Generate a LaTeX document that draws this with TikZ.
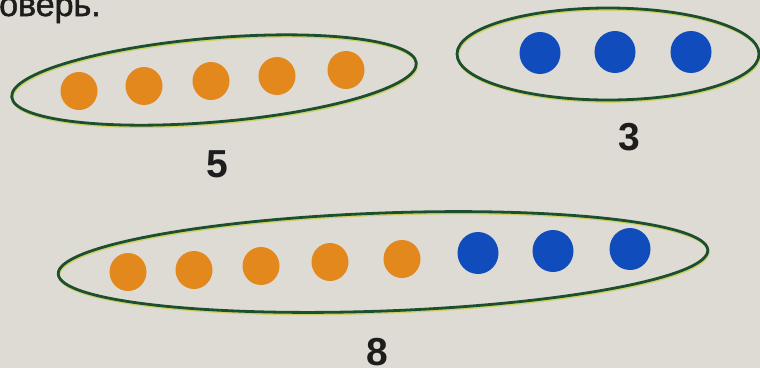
\documentclass[tikz,border=0pt]{standalone}
\usepackage{fontspec}
\setmainfont{Liberation Sans}
\newfontfamily\headfont[UprightFeatures={FakeBold=1.5}]{Liberation Sans}
\usetikzlibrary{shapes.geometric}
\definecolor{paper}{RGB}{222,219,213}
\definecolor{dotorange}{RGB}{226,136,28}
\definecolor{dotblue}{RGB}{16,76,188}
\definecolor{rim}{RGB}{28,78,48}
\definecolor{halo}{RGB}{205,208,100}
\definecolor{ink}{RGB}{30,28,28}
\begin{document}
\begin{tikzpicture}[x=1pt,y=-1pt,
  group/.style={ellipse, draw=rim, line width=2.8pt, inner sep=0pt, outer sep=0pt,
    preaction={draw=halo, line width=2.6pt, transform canvas={shift={(0.7pt,-1.5pt)}}}},
  odot/.style={ellipse, fill=dotorange, minimum width=37pt, minimum height=38pt, inner sep=0pt},
  bdot/.style={ellipse, fill=dotblue, minimum width=41pt, minimum height=42pt, inner sep=0pt},
  num/.style={font=\fontsize{39}{39}\selectfont\bfseries, inner sep=0pt, text=ink}
]
\fill[paper] (0,0) rectangle (760,368);
\useasboundingbox (0,0) rectangle (760,368);
\clip (0,0) rectangle (760,368);

\node[anchor=base west, font=\fontsize{34}{34}\headfont, inner sep=0pt, text=ink] (head) at (-1,16) {оверь.};

% group of five
\node[group, minimum width=406pt, minimum height=84pt, rotate=4.8] (g5) at (214,80) {};
\node[odot] (o1) at (79,91) {};
\node[odot] (o2) at (144,86) {};
\node[odot] (o3) at (211,81) {};
\node[odot] (o4) at (277,76) {};
\node[odot] (o5) at (346,70) {};
\node[num] (n5) at (217,164) {5};

% group of three
\node[group, minimum width=302pt, minimum height=92pt] (g3) at (608,54) {};
\node[bdot] (b1) at (540,53) {};
\node[bdot] (b2) at (615,52) {};
\node[bdot] (b3) at (691,52) {};
\node[num] (n3) at (629,137) {3};

% group of eight
\node[group, minimum width=650pt, minimum height=98pt, rotate=2.1] (g8) at (383,262) {};
\node[odot] (p1) at (128,272) {};
\node[odot] (p2) at (194,270) {};
\node[odot] (p3) at (261,266) {};
\node[odot] (p4) at (330,262) {};
\node[odot] (p5) at (402,259) {};
\node[bdot] (p6) at (478,253) {};
\node[bdot] (p7) at (553,251) {};
\node[bdot] (p8) at (630,249) {};
\node[num] (n8) at (377,352) {8};
\end{tikzpicture}
\end{document}
